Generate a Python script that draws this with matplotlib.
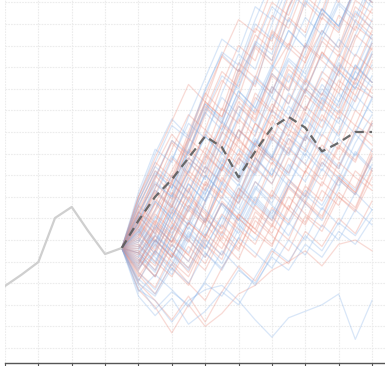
import numpy as np
import matplotlib.pyplot as plt

# observed history (steps 0..7)
history = [28.7, 34.0, 39.8, 60.2, 65.3, 54.0, 43.5, 46.3]
start = history[-1]

# reference forecast path (steps 8..22)
forecast = [59, 70, 78, 88, 98, 93, 79, 91, 102, 107, 102, 91, 95, 100, 100]

# simulated paths (steps 8..22)
red_paths = [
    [62, 80, 71, 95, 112, 104, 126, 140, 133, 158, 171, 165, 188, 196, 210],
    [38, 57, 49, 66, 60, 83, 97, 88, 110, 104, 119, 137, 128, 149, 143],
    [55, 43, 61, 74, 58, 79, 70, 92, 85, 101, 96, 115, 108, 124, 139],
    [31, 45, 37, 29, 48, 41, 62, 55, 73, 64, 82, 94, 87, 103, 98],
    [68, 84, 99, 90, 114, 107, 129, 121, 146, 139, 160, 152, 175, 168, 186],
    [44, 36, 55, 69, 62, 50, 71, 88, 79, 97, 91, 108, 99, 121, 116],
    [27, 19, 7, 20, 10, 16, 25, 29, 36, 40, 45, 38, 48, 50, 45],
    [50, 67, 58, 77, 93, 85, 106, 98, 121, 113, 133, 147, 139, 161, 155],
    [40, 52, 44, 35, 51, 43, 60, 53, 47, 66, 58, 77, 70, 64, 82],
    [58, 49, 68, 82, 75, 96, 89, 111, 103, 126, 118, 137, 129, 152, 145],
    [34, 25, 39, 30, 22, 37, 49, 42, 57, 50, 68, 61, 79, 72, 88],
    [64, 79, 95, 87, 108, 124, 116, 139, 131, 153, 146, 169, 160, 182, 176],
    [47, 59, 52, 70, 63, 55, 74, 67, 86, 78, 71, 90, 83, 101, 94],
    [53, 45, 64, 57, 76, 69, 87, 104, 96, 117, 110, 128, 121, 143, 157],
    [36, 50, 42, 58, 51, 68, 60, 53, 71, 64, 82, 75, 93, 86, 104],
    [60, 73, 66, 86, 79, 99, 116, 108, 127, 120, 141, 134, 154, 147, 168],
    [42, 33, 48, 40, 57, 49, 41, 59, 52, 45, 61, 54, 70, 63, 79],
    [57, 71, 88, 80, 101, 93, 114, 106, 128, 141, 134, 155, 148, 167, 160],
    [30, 22, 13, 24, 12, 26, 38, 31, 45, 39, 54, 47, 60, 53, 68],
    [49, 62, 55, 73, 90, 82, 101, 94, 113, 106, 124, 117, 136, 129, 147],
    [45, 38, 56, 49, 68, 84, 77, 95, 88, 81, 98, 91, 110, 103, 121],
    [66, 58, 77, 92, 85, 104, 97, 118, 110, 131, 123, 144, 137, 158, 151],
    [37, 48, 40, 33, 49, 62, 55, 48, 65, 58, 75, 68, 86, 79, 73],
    [52, 64, 80, 72, 89, 82, 101, 94, 87, 106, 99, 118, 111, 130, 123],
    [43, 55, 47, 64, 57, 75, 90, 83, 101, 94, 112, 105, 124, 117, 136],
    [59, 50, 42, 58, 51, 67, 60, 77, 70, 88, 81, 99, 92, 110, 103],
    [33, 45, 58, 50, 42, 57, 49, 66, 59, 77, 70, 88, 81, 74, 92],
    [70, 86, 79, 100, 118, 110, 132, 125, 147, 140, 163, 156, 178, 171, 192],
    [48, 40, 33, 47, 39, 54, 46, 61, 53, 70, 62, 56, 72, 65, 83],
    [56, 69, 62, 80, 73, 92, 85, 104, 97, 90, 109, 102, 121, 114, 133],
    [39, 52, 66, 59, 77, 70, 88, 81, 99, 92, 110, 125, 118, 136, 129],
    [61, 53, 72, 65, 84, 77, 96, 89, 108, 101, 120, 113, 106, 125, 118],
    [46, 58, 51, 43, 60, 53, 71, 64, 57, 75, 68, 86, 79, 72, 90],
    [54, 67, 82, 97, 90, 111, 104, 125, 118, 139, 132, 153, 146, 167, 160],
    [41, 33, 50, 43, 36, 52, 45, 63, 56, 74, 67, 60, 78, 71, 89],
    [63, 76, 69, 88, 81, 100, 93, 86, 105, 98, 117, 110, 129, 122, 141],
    [35, 28, 44, 37, 53, 46, 62, 55, 48, 64, 57, 73, 66, 82, 75],
    [51, 63, 76, 69, 87, 103, 96, 116, 109, 129, 122, 142, 135, 155, 148],
    [44, 56, 49, 65, 58, 74, 67, 83, 76, 92, 85, 78, 94, 87, 105],
    [58, 72, 65, 84, 99, 92, 112, 105, 126, 119, 140, 133, 126, 145, 138],
    [70, 88, 105, 122, 114, 135, 152, 146, 166, 180, 175, 195, 210, 205, 222],
    [60, 78, 96, 89, 110, 128, 121, 141, 160, 154, 173, 190, 184, 203, 220],
    [66, 82, 76, 98, 117, 135, 128, 148, 142, 163, 180, 174, 195, 210, 226],
    [56, 74, 92, 108, 101, 122, 140, 133, 154, 148, 168, 186, 180, 200, 216],
    [63, 57, 78, 96, 114, 107, 127, 145, 138, 158, 176, 170, 190, 206, 220],
]

blue_paths = [
    [27, 22, 12, 22, 27, 29, 22, 13, 5, 14, 17, 20, 25, 4, 22],
    [65, 82, 74, 97, 113, 106, 129, 122, 145, 138, 161, 154, 177, 170, 191],
    [43, 35, 52, 66, 58, 77, 69, 88, 80, 99, 92, 111, 104, 123, 116],
    [52, 68, 60, 51, 67, 83, 75, 94, 87, 80, 98, 116, 109, 128, 121],
    [35, 27, 42, 56, 48, 39, 55, 70, 62, 78, 70, 86, 78, 95, 108],
    [70, 90, 106, 98, 120, 136, 128, 150, 143, 165, 158, 180, 173, 195, 188],
    [47, 39, 57, 50, 68, 85, 78, 96, 88, 106, 120, 113, 131, 124, 142],
    [31, 44, 36, 52, 44, 36, 51, 67, 59, 75, 67, 59, 74, 90, 82],
    [56, 48, 66, 82, 98, 90, 108, 100, 119, 134, 127, 145, 160, 153, 171],
    [40, 55, 71, 63, 80, 72, 64, 81, 97, 89, 106, 122, 114, 131, 123],
    [50, 42, 34, 50, 42, 58, 74, 66, 83, 75, 92, 84, 101, 117, 109],
    [63, 55, 74, 91, 83, 101, 119, 111, 130, 147, 139, 157, 149, 167, 185],
    [36, 50, 42, 58, 74, 66, 57, 73, 89, 81, 98, 90, 107, 99, 116],
    [45, 60, 76, 68, 59, 76, 92, 84, 101, 118, 110, 127, 143, 135, 152],
    [26, 34, 27, 19, 31, 45, 37, 29, 43, 58, 50, 65, 57, 72, 64],
    [58, 73, 65, 82, 99, 116, 108, 126, 118, 136, 153, 145, 163, 180, 172],
    [48, 40, 56, 72, 64, 56, 72, 88, 80, 97, 89, 106, 98, 115, 131],
    [39, 53, 45, 37, 52, 67, 59, 75, 67, 83, 99, 91, 83, 99, 91],
    [68, 84, 77, 95, 113, 105, 123, 141, 133, 152, 144, 163, 181, 173, 192],
    [44, 36, 52, 44, 60, 52, 68, 84, 76, 93, 85, 101, 118, 110, 126],
    [53, 68, 60, 76, 68, 84, 101, 93, 110, 127, 119, 136, 128, 145, 162],
    [32, 25, 39, 54, 46, 61, 53, 69, 61, 52, 67, 83, 75, 91, 83],
    [57, 49, 65, 57, 73, 90, 82, 99, 116, 108, 125, 117, 134, 151, 143],
    [42, 57, 49, 64, 80, 72, 88, 80, 96, 112, 104, 120, 112, 128, 145],
    [61, 53, 69, 86, 78, 95, 112, 104, 121, 113, 130, 147, 139, 156, 148],
    [24, 15, 23, 11, 17, 26, 20, 33, 46, 40, 52, 45, 58, 52, 64],
    [49, 64, 80, 72, 88, 105, 97, 114, 131, 123, 140, 157, 149, 166, 183],
    [37, 45, 38, 53, 46, 61, 76, 68, 60, 75, 90, 82, 97, 89, 104],
    [55, 47, 63, 55, 71, 87, 79, 96, 88, 104, 96, 112, 128, 120, 136],
    [46, 61, 53, 68, 84, 76, 67, 82, 98, 90, 106, 98, 114, 131, 123],
    [29, 18, 26, 20, 30, 24, 36, 30, 42, 36, 48, 42, 54, 48, 60],
    [59, 74, 89, 81, 98, 90, 107, 124, 116, 133, 125, 142, 159, 151, 168],
    [41, 33, 48, 40, 55, 70, 62, 77, 69, 85, 77, 92, 84, 100, 115],
    [51, 44, 60, 76, 68, 85, 77, 94, 110, 102, 119, 111, 128, 120, 137],
    [38, 50, 43, 36, 50, 43, 57, 50, 64, 57, 71, 64, 78, 71, 85],
    [66, 81, 74, 92, 109, 101, 119, 111, 129, 147, 139, 157, 149, 167, 160],
    [44, 52, 45, 59, 52, 67, 59, 74, 66, 59, 73, 66, 80, 73, 88],
    [54, 46, 63, 79, 71, 88, 80, 97, 89, 106, 123, 115, 132, 124, 141],
    [30, 24, 37, 30, 44, 37, 51, 44, 37, 50, 43, 57, 50, 64, 57],
    [62, 77, 70, 88, 81, 99, 117, 109, 127, 119, 137, 155, 147, 165, 158],
    [68, 86, 103, 97, 119, 137, 131, 152, 170, 164, 184, 200, 194, 214, 230],
    [58, 76, 70, 91, 109, 126, 120, 140, 158, 151, 172, 190, 184, 202, 218],
    [72, 92, 86, 107, 125, 143, 137, 158, 152, 173, 190, 184, 204, 220, 236],
    [61, 79, 96, 90, 111, 104, 124, 142, 136, 157, 175, 168, 188, 205, 221],
    [54, 70, 87, 104, 97, 118, 136, 129, 150, 168, 162, 181, 198, 192, 210],
]

x_hist = np.arange(len(history))
x_fut = np.arange(len(history) - 1, len(history) + len(forecast))

fig = plt.figure(figsize=(3.85, 3.66), dpi=100)
ax = fig.add_axes([5 / 385, 3 / 366, 380 / 385, 363 / 366])

red = '#ea8676'
blue = '#80aee8'
for i in range(len(red_paths)):
    ax.plot(x_fut, [start] + red_paths[i], color=red, lw=0.9, alpha=0.3)
    ax.plot(x_fut, [start] + blue_paths[i], color=blue, lw=0.9, alpha=0.3)

ax.plot(x_hist, history, color='#cfcfcf', lw=1.6)
ax.plot(x_fut, [start] + forecast, color='#5a5a5a', lw=1.6,
        linestyle=(0, (4, 2.5)), alpha=0.9)

ax.set_xlim(0, 380 / (367 / 22))
ax.set_ylim(-6.94, 161.1)
ax.set_xticks(np.arange(0, 23, 2))
ax.set_yticks(np.arange(0, 161, 10))
ax.grid(True, color='#ececec', lw=0.8, linestyle=(0, (1.5, 1)))
ax.set_axisbelow(True)
ax.tick_params(axis='x', length=3, width=0.8, color='#555555',
               labelbottom=False)
ax.tick_params(axis='y', length=0, labelleft=False)
for side in ['left', 'right', 'top']:
    ax.spines[side].set_visible(False)
ax.spines['bottom'].set_color('#555555')
ax.spines['bottom'].set_linewidth(1.0)

fig.savefig('out.png', dpi=100)
